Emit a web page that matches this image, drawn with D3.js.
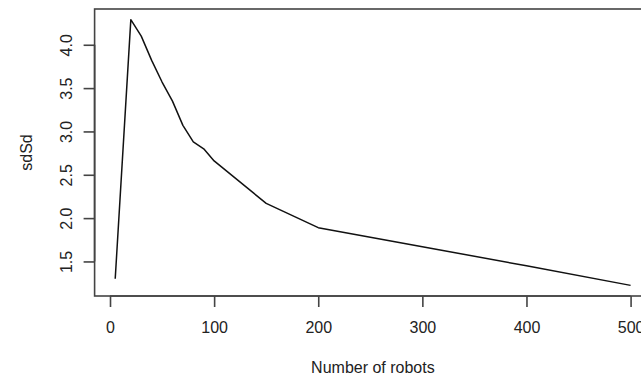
<!DOCTYPE html>
<html>
<head>
<meta charset="utf-8">
<script src="https://cdn.jsdelivr.net/npm/d3@7"></script>
<style>
  html, body { margin: 0; padding: 0; background: #fff; }
  svg { display: block; }
  text { font-family: "Liberation Sans", Arial, Helvetica, sans-serif; fill: #222; }
</style>
</head>
<body>
<svg id="chart" width="641" height="377"></svg>
<script>
// Data
const robots = [5, 20, 30, 40, 50, 60, 70, 80, 90, 100, 150, 200, 300, 400, 500];
const sdSd   = [1.30, 4.29, 4.10, 3.82, 3.57, 3.35, 3.07, 2.88, 2.80, 2.66, 2.17, 1.89, 1.67, 1.45, 1.224];
const xTicks = [0, 100, 200, 300, 400, 500];
const yTicks = [1.5, 2.0, 2.5, 3.0, 3.5, 4.0];
const xTitle = "Number of robots";
const yTitle = "sdSd";

const svg = d3.select("#chart");

// R-style 4% padding of the data range
function pad(ext) { const d = (ext[1] - ext[0]) * 0.04; return [ext[0] - d, ext[1] + d]; }
const xDom = pad(d3.extent(robots));
const yDom = pad(d3.extent(sdSd));

const mLeft = 94.6, mRight = 651.2, mTop = 9, mBottom = 296;
const x = d3.scaleLinear().domain(xDom).range([mLeft, mRight]);
const y = d3.scaleLinear().domain(yDom).range([mBottom, mTop]);

const fontSize = 16;

// Box
svg.append("rect")
  .attr("x", mLeft).attr("y", mTop)
  .attr("width", mRight - mLeft).attr("height", mBottom - mTop)
  .attr("fill", "none").attr("stroke", "#444").attr("stroke-width", 1.6);

// X axis
const xAxis = d3.axisBottom(x).tickValues(xTicks).tickSize(11)
  .tickFormat(d3.format("d"));
const gx = svg.append("g").attr("transform", `translate(0,${mBottom})`).call(xAxis);
gx.select(".domain").attr("d", `M${x(xTicks[0])},0H${x(xTicks[xTicks.length-1])}`)
  .attr("stroke", "#444").attr("stroke-width", 1.6);
gx.selectAll(".tick line").attr("stroke", "#444").attr("stroke-width", 1.6);
gx.selectAll(".tick text").attr("font-size", fontSize)
  .style("font-family", "'Liberation Sans', Arial, sans-serif").attr("fill", "#222")
  .attr("dy", null).attr("y", 36.5);

// Y axis
const yAxis = d3.axisLeft(y).tickValues(yTicks).tickSize(11).tickFormat(d3.format(".1f"));
const gy = svg.append("g").attr("transform", `translate(${mLeft},0)`).call(yAxis);
gy.select(".domain").attr("d", `M0,${y(yTicks[0])}V${y(yTicks[yTicks.length-1])}`)
  .attr("stroke", "#444").attr("stroke-width", 1.6);
gy.selectAll(".tick line").attr("stroke", "#444").attr("stroke-width", 1.6);
gy.selectAll(".tick text")
  .attr("font-size", fontSize)
  .style("font-family", "'Liberation Sans', Arial, sans-serif").attr("fill", "#222")
  .attr("x", null).attr("dy", null)
  .attr("text-anchor", "middle")
  .attr("transform", "translate(-22.6,0) rotate(-90)");

// Line
const line = d3.line().x((d, i) => x(robots[i])).y(d => y(d));
svg.append("path")
  .datum(sdSd)
  .attr("d", line)
  .attr("fill", "none")
  .attr("stroke", "#111")
  .attr("stroke-width", 1.5)
  .attr("stroke-linejoin", "round");

// Titles
svg.append("text")
  .attr("x", (mLeft + mRight) / 2).attr("y", 372.5)
  .attr("text-anchor", "middle").attr("font-size", fontSize)
  .text(xTitle);

svg.append("text")
  .attr("transform", `translate(32,${(mTop + mBottom) / 2}) rotate(-90)`)
  .attr("text-anchor", "middle").attr("font-size", fontSize)
  .text(yTitle);
</script>
</body>
</html>
